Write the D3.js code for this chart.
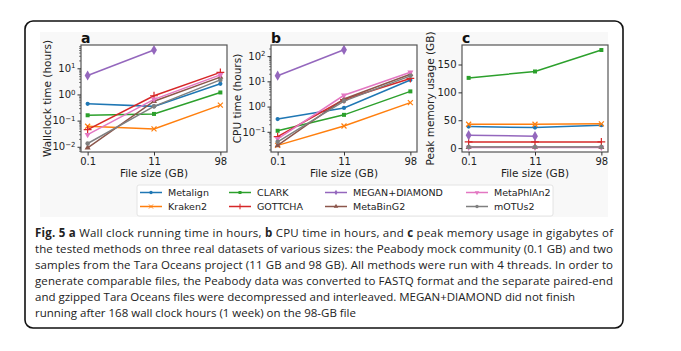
<!DOCTYPE html>
<html>
<head>
<meta charset="utf-8">
<script src="https://cdn.jsdelivr.net/npm/d3@7"></script>
<style>
  body { margin: 0; background: #fff; }
  svg { display: block; }
</style>
</head>
<body>
<svg id="fig" width="681" height="351"></svg>
<script>
// file sizes on the x axis
var sizes = ["0.1", "11", "98"];
var methods = ["Metalign", "Kraken2", "CLARK", "GOTTCHA", "MEGAN+DIAMOND", "MetaBinG2", "MetaPhlAn2", "mOTUs2"];
var colors = ["#1f77b4", "#ff7f0e", "#2ca02c", "#d62728", "#9467bd", "#8c564b", "#e377c2", "#7f7f7f"];

// one row per method, values at 0.1 / 11 / 98 GB (null = did not finish)
var wallclock = [
  [0.44, 0.35, 2.55],
  [0.061, 0.048, 0.39],
  [0.16, 0.18, 1.19],
  [0.045, 0.89, 7.0],
  [5.3, 50, null],
  [0.0091, 0.55, 4.6],
  [0.029, 0.65, 5.6],
  [0.0133, 0.35, 3.6]
];
var cputime = [
  [0.32, 0.88, 11.3],
  [0.029, 0.17, 1.43],
  [0.11, 0.47, 4.0],
  [0.064, 1.9, 13],
  [16.7, 178, null],
  [0.029, 2.0, 19],
  [0.053, 2.8, 23],
  [0.04, 1.65, 16.5]
];
var memory = [
  [38.6, 36.8, 41],
  [42.8, 42.8, 43.5],
  [126, 137.5, 176],
  [11, 11, 11],
  [23.2, 21.4, null],
  [1.5, 1.5, 1.5],
  [1.2, 1.2, 1.2],
  [1.8, 1.8, 1.8]
];
var memTicks = [0, 50, 100, 150];

var svg = d3.select("#fig");
var top0 = 45, bot0 = 152;

// figure frame + pasted image background
svg.append("rect").attr("x", 25).attr("y", 21).attr("width", 598).attr("height", 307)
  .attr("rx", 8).attr("fill", "#fff").attr("stroke", "#111").attr("stroke-width", 1.6);
svg.append("rect").attr("x", 40).attr("y", 32).attr("width", 568).attr("height", 185)
  .attr("fill", "#f8f8f8");

var symbolFor = [
  d3.symbol().type(d3.symbolCircle).size(14),
  d3.symbol().type(d3.symbolX).size(18),
  d3.symbol().type(d3.symbolSquare).size(16),
  d3.symbol().type(d3.symbolPlus).size(22),
  d3.symbol().type(d3.symbolDiamond).size(30),
  d3.symbol().type(d3.symbolTriangle).size(16),
  d3.symbol().type(d3.symbolTriangle).size(16),
  d3.symbol().type(d3.symbolCircle).size(16)
];
var strokeSym = [false, true, false, true, false, false, false, false];

function supLabel(sel) {
  sel.each(function(d) {
    var t = d3.select(this);
    t.text("");
    t.append("tspan").text("10");
    var e = Math.round(Math.log10(d));
    t.append("tspan").attr("dy", "-0.5em").attr("font-size", "7px").text(e < 0 ? "\u2212" + (-e) : e);
  });
}

function panel(x0, x1, letter, yLabel, labelX, data, yScaleType, yDomain, majors) {
  var xS = d3.scalePoint().domain(sizes).range([x0, x1]).padding(0.1);
  var yS = (yScaleType === "log" ? d3.scaleLog() : d3.scaleLinear()).domain(yDomain).range([bot0, top0]);

  svg.append("rect").attr("x", x0).attr("y", top0).attr("width", x1 - x0).attr("height", bot0 - top0)
    .attr("fill", "#fff");

  var line = d3.line().defined(function(d) { return d != null; })
    .x(function(d, i) { return xS(sizes[i]); }).y(function(d) { return yS(d); });

  data.forEach(function(vals, m) {
    var g = svg.append("g");
    g.append("path").datum(vals).attr("d", line).attr("fill", "none")
      .attr("stroke", colors[m]).attr("stroke-width", 1.5);
    vals.forEach(function(v, i) {
      if (v == null) return;
      var p = g.append("path").attr("d", symbolFor[m]())
        .attr("transform", "translate(" + xS(sizes[i]) + "," + yS(v) + ")" + (m === 6 ? " rotate(180)" : ""));
      if (strokeSym[m]) p.attr("fill", "none").attr("stroke", colors[m]).attr("stroke-width", 1.2);
      else p.attr("fill", colors[m]);
    });
  });

  // spines
  svg.append("rect").attr("x", x0).attr("y", top0).attr("width", x1 - x0).attr("height", bot0 - top0)
    .attr("fill", "none").attr("stroke", "#555").attr("stroke-width", 1.2);

  var xa = svg.append("g").attr("transform", "translate(0," + bot0 + ")")
    .call(d3.axisBottom(xS).tickSize(3.5).tickPadding(2));
  xa.select(".domain").remove();
  xa.selectAll("text").attr("font-size", "10px").attr("font-family", "DejaVu Sans").attr("fill", "#222");
  xa.selectAll("line").attr("stroke", "#333");

  if (yScaleType === "log") {
    var minors = [];
    var lo = Math.floor(Math.log10(yDomain[0])), hi = Math.ceil(Math.log10(yDomain[1]));
    for (var k = lo; k < hi; k++) {
      for (var j = 2; j < 10; j++) {
        var v = j * Math.pow(10, k);
        if (v >= yDomain[0] && v <= yDomain[1]) minors.push(v);
      }
    }
    var ym = svg.append("g").attr("transform", "translate(" + x0 + ",0)")
      .call(d3.axisLeft(yS).tickValues(minors).tickSize(2).tickFormat(""));
    ym.select(".domain").remove();
    ym.selectAll("line").attr("stroke", "#333").attr("stroke-width", 0.6);
  }
  var ya = svg.append("g").attr("transform", "translate(" + x0 + ",0)")
    .call(d3.axisLeft(yS).tickValues(majors).tickSize(3.5).tickPadding(2));
  ya.select(".domain").remove();
  ya.selectAll("line").attr("stroke", "#333");
  ya.selectAll("text").attr("font-size", "10px").attr("font-family", "DejaVu Sans").attr("fill", "#222");
  if (yScaleType === "log") supLabel(ya.selectAll("text"));
  else ya.selectAll("text").text(function(d) { return d; });

  svg.append("text").attr("x", (x0 + x1) / 2).attr("y", 177)
    .attr("text-anchor", "middle").attr("font-family", "DejaVu Sans").attr("font-size", "10.5px")
    .attr("fill", "#222").text("File size (GB)");
  svg.append("text").attr("transform", "translate(" + labelX + "," + ((top0 + bot0) / 2) + ") rotate(-90)")
    .attr("text-anchor", "middle").attr("dy", "0.35em").attr("font-family", "DejaVu Sans").attr("font-size", "10.5px")
    .attr("fill", "#222").text(yLabel);
  svg.append("text").attr("x", x0).attr("y", 43).attr("font-family", "DejaVu Sans").attr("font-weight", "bold")
    .attr("font-size", "14px").attr("fill", "#111").text(letter);
}

panel(81, 227, "a", "Wallclock time (hours)", 47, wallclock, "log", [Math.pow(10, -2.2), Math.pow(10, 1.89)], [0.01, 0.1, 1, 10]);
panel(271, 417, "b", "CPU time (hours)", 237, cputime, "log", [Math.pow(10, -1.8), Math.pow(10, 2.44)], [0.1, 1, 10, 100]);
panel(462, 608, "c", "Peak memory usage (GB)", 430, memory, "linear", [-7, 185], memTicks);

// legend (column-major, 2 rows)
var lg = svg.append("g");
lg.append("rect").attr("x", 137).attr("y", 185).attr("width", 416).attr("height", 31).attr("rx", 2)
  .attr("fill", "#fff").attr("stroke", "#ddd").attr("stroke-width", 0.8);
var colX = [140, 229, 325, 466];
methods.forEach(function(name, m) {
  var cx = colX[Math.floor(m / 2)], cy = m % 2 === 0 ? 192.5 : 206.5;
  var g = lg.append("g");
  g.append("line").attr("x1", cx).attr("x2", cx + 22).attr("y1", cy).attr("y2", cy)
    .attr("stroke", colors[m]).attr("stroke-width", 1.5);
  var p = g.append("path").attr("d", symbolFor[m].size(strokeSym[m] ? 12 : 9)())
    .attr("transform", "translate(" + (cx + 11) + "," + cy + ")" + (m === 6 ? " rotate(180)" : ""));
  if (strokeSym[m]) p.attr("fill", "none").attr("stroke", colors[m]).attr("stroke-width", 1);
  else p.attr("fill", colors[m]);
  g.append("text").attr("x", cx + 28).attr("y", cy).attr("dy", "0.35em")
    .attr("font-family", "DejaVu Sans").attr("font-size", "9.5px").attr("fill", "#222").text(name);
});

// caption
var caption = [
  [["Fig. 5 a", true], [" Wall clock running time in hours, ", false], ["b", true], [" CPU time in hours, and ", false], ["c", true], [" peak memory usage in gigabytes of", false]],
  [["the tested methods on three real datasets of various sizes: the Peabody mock community (0.1 GB) and two", false]],
  [["samples from the Tara Oceans project (11 GB and 98 GB). All methods were run with 4 threads. In order to", false]],
  [["generate comparable files, the Peabody data was converted to FASTQ format and the separate paired-end", false]],
  [["and gzipped Tara Oceans files were decompressed and interleaved. MEGAN+DIAMOND did not finish", false]],
  [["running after 168 wall clock hours (1 week) on the 98-GB file", false]]
];
caption.forEach(function(parts, i) {
  var t = svg.append("text").attr("x", 35).attr("y", 237 + i * 16)
    .attr("font-family", "Open Sans").attr("font-size", "11.5px").attr("fill", "#222");
  parts.forEach(function(p) {
    t.append("tspan").attr("font-weight", p[1] ? "bold" : "normal").text(p[0]);
  });
  if (i < 4) t.attr("textLength", 578).attr("lengthAdjust", "spacing");
});
</script>
</body>
</html>
